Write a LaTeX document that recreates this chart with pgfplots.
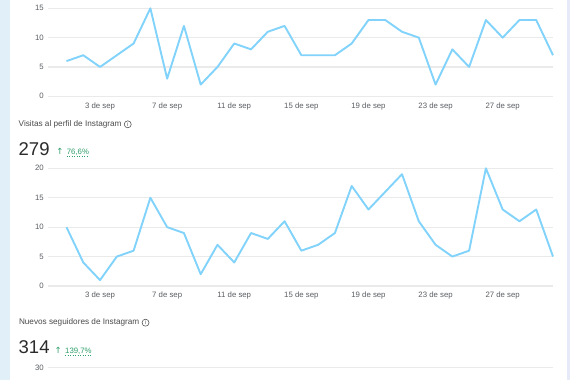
\documentclass[border=0pt]{standalone}
\usepackage{fontspec}
\setmainfont{Liberation Sans}
\newfontfamily\dejavu{DejaVu Sans}
\usepackage{pgfplots}
\pgfplotsset{compat=1.18}
\definecolor{linec}{HTML}{82D3FB}
\definecolor{gridc}{HTML}{EAEAEA}
\definecolor{tickc}{HTML}{5A5E63}
\definecolor{titlec}{HTML}{4A4A4A}
\definecolor{numc}{HTML}{2B2B2B}
\definecolor{greenc}{HTML}{2E9E6A}
\definecolor{leftbg}{HTML}{E1EFF9}
\definecolor{rightbg}{HTML}{E6EAF8}
\pgfplotsset{dash/.style={
  scale only axis, anchor=south west, width=505.5pt,
  xmin=-0.132, xmax=30, ymin=0,
  axis line style={draw=none}, tick style={draw=none},
  major tick length=0pt,
  ymajorgrids, grid style={gridc, line width=1.2pt},
  tick label style={font=\fontsize{7.8}{8}\selectfont, text=tickc},
  /pgf/number format/assume math mode=true,
  yticklabel style={anchor=east, inner sep=0pt, xshift=-3.5pt},
  xticklabel style={anchor=north, inner sep=0pt, yshift=-6pt},
  xtick={3,7,11,15,19,23,27},
  xticklabels={3 de sep,7 de sep,11 de sep,15 de sep,19 de sep,23 de sep,27 de sep},
  clip=false,
}}
\begin{document}
\begin{tikzpicture}
\useasboundingbox (0,0) rectangle (570pt,380pt);
\clip (0,0) rectangle (570pt,380pt);
\fill[white] (0,0) rectangle (570pt,380pt);
\fill[leftbg] (0,0) rectangle (9.5pt,380pt);
\fill[rightbg] (566.7pt,0) rectangle (570pt,380pt);

% top chart
\begin{axis}[dash, at={(47.5pt,283.7pt)}, height=88pt, ymax=15, ytick={0,5,10,15}]
\addplot[linec, line width=1.9pt, line join=round] table {
x y
1 6
2 7
3 5
4 7
5 9
6 15
7 3
8 12
9 2
10 5
11 9
12 8
13 11
14 12
15 7
16 7
17 7
18 9
19 13
20 13
21 11
22 10
23 2
24 8
25 5
26 13
27 10
28 13
29 13
30 7
};
\end{axis}

% second chart
\begin{axis}[dash, at={(47.5pt,94pt)}, height=117.7pt, ymax=20, ytick={0,5,10,15,20}]
\addplot[linec, line width=1.9pt, line join=round] table {
x y
1 10
2 4
3 1
4 5
5 6
6 15
7 10
8 9
9 2
10 7
11 4
12 9
13 8
14 11
15 6
16 7
17 9
18 17
19 13
20 16
21 19
22 11
23 7
24 5
25 6
26 20
27 13
28 11
29 13
30 5
};
\end{axis}

% third chart (cut off)
\begin{axis}[dash, at={(47.5pt,-7.2pt)}, height=19.5pt, ymin=25, ymax=30, ytick={30}, xtick=\empty]
\addplot[draw=none] coordinates {(1,25) (30,25)};
\end{axis}

% texts
\node[anchor=west, inner sep=0pt, text=titlec, font=\fontsize{8.2}{9}\selectfont] (t1) at (18.5pt,255.7pt) {Visitas al perfil de Instagram};
\draw[titlec, line width=0.55pt] ([xshift=6pt]t1.east) circle (3.5pt);
\node[inner sep=0pt, text=titlec, font=\fontsize{5.5}{6}\selectfont] at ([xshift=6pt]t1.east) {i};
\node[anchor=west, inner sep=0pt, text=numc, font=\fontsize{18.5}{20}\selectfont] at (18.5pt,231.3pt) {279};
\node[inner sep=0pt, text=greenc, font=\dejavu\fontsize{8.5}{9}\selectfont] at (60pt,228.8pt) {↑};
\node[anchor=west, inner sep=0pt, text=greenc, font=\fontsize{7.8}{8}\selectfont] at (66.7pt,228.2pt) {76,6\%};
\draw[greenc, line width=0.5pt, dotted] (66.7pt,224pt) -- (88.3pt,224pt);

\node[anchor=west, inner sep=0pt, text=titlec, font=\fontsize{8.2}{9}\selectfont] (t2) at (18.8pt,57.3pt) {Nuevos seguidores de Instagram};
\draw[titlec, line width=0.55pt] ([xshift=6pt]t2.east) circle (3.5pt);
\node[inner sep=0pt, text=titlec, font=\fontsize{5.5}{6}\selectfont] at ([xshift=6pt]t2.east) {i};
\node[anchor=west, inner sep=0pt, text=numc, font=\fontsize{18.5}{20}\selectfont] at (18.5pt,33.3pt) {314};
\node[inner sep=0pt, text=greenc, font=\dejavu\fontsize{8.5}{9}\selectfont] at (58.3pt,29.6pt) {↑};
\node[anchor=west, inner sep=0pt, text=greenc, font=\fontsize{7.8}{8}\selectfont] at (65pt,29pt) {139,7\%};
\draw[greenc, line width=0.5pt, dotted] (65pt,25pt) -- (91.7pt,25pt);
\end{tikzpicture}
\end{document}
